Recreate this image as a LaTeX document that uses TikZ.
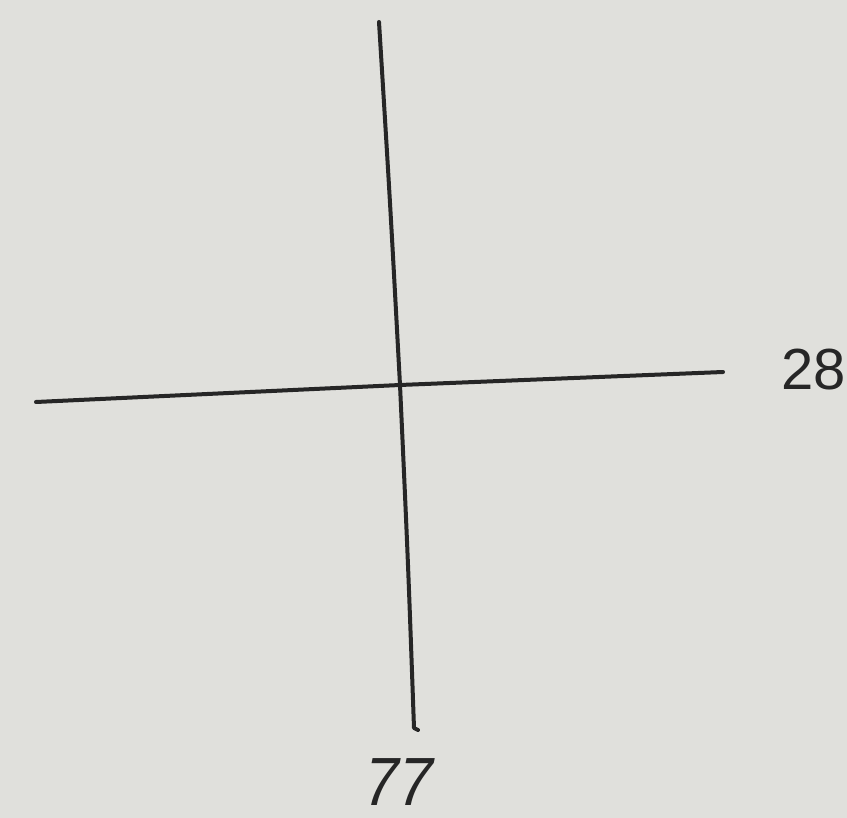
\documentclass[tikz,border=0pt]{standalone}
\usepackage{fontspec}
\setmainfont{Liberation Sans}
\newfontfamily\slantfont[FakeSlant=0.22]{Liberation Sans}
\definecolor{paper}{RGB}{224,224,220}
\definecolor{ink}{RGB}{38,38,38}
\begin{document}
\begin{tikzpicture}[x=1pt,y=-1pt,
  stroke/.style={draw=ink,line width=4pt,line cap=round,line join=round},
  lbl/.style={text=ink,inner sep=0pt,anchor=base west}]
\fill[paper] (0,0) rectangle (847,818);
\useasboundingbox (0,0) rectangle (847,818);
\coordinate (top) at (379,22);
\coordinate (mid) at (400,385);
\coordinate (bot) at (414,728);
\coordinate (left) at (36,402);
\coordinate (right) at (723,372);
\draw[stroke] (top) .. controls (390,200) .. (mid) .. controls (408,560) .. (bot) -- ++(4,2);
\draw[stroke] (left) -- (mid) -- (right);
\node[lbl,font=\fontsize{58}{58}\selectfont] (n28) at (781,390) {28};
\node[lbl,font=\slantfont\fontsize{62}{62}\selectfont,yscale=1.1] (n77) at (360,805) {77};
\end{tikzpicture}
\end{document}
